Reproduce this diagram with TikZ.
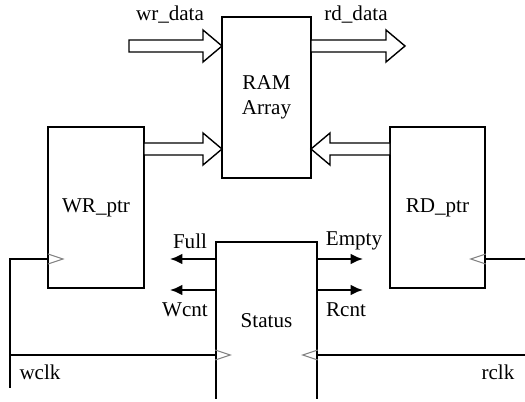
\documentclass[tikz,border=0pt]{standalone}
\usepackage{fontspec}
\setmainfont{Liberation Serif}
\usetikzlibrary{arrows,arrows.meta,positioning}
\tikzset{
  block/.style={draw, line width=0.85pt, rectangle, align=center, inner sep=0pt},
  bus/.style={draw, fill=white, line width=0.8pt, line join=miter},
  sig/.style={line width=1.1pt, -{Latex[length=7pt,width=6pt]}},
  wire/.style={line width=0.85pt},
  clk/.style={draw=gray, line width=0.6pt},
}
% #1 tip, #2 direction (1 right, -1 left), #3 shaft length
\newcommand{\busarrow}[3]{%
  \draw[bus] (#1) -- ++(-19*#2,-16) -- ++(0,10) -- ++(-#3*#2,0) -- ++(0,12)
    -- ++(#3*#2,0) -- ++(0,10) -- cycle;}

\begin{document}
\begin{tikzpicture}[x=0.02cm, y=-0.02cm, font=\fontsize{12}{14}\selectfont]
        \useasboundingbox (0,0) rectangle (525,402);
        \clip (0,0) rectangle (525,399);

        % Define blocks by coordinates
        \node[block, minimum width=1.78cm, minimum height=3.22cm] (ram) at (266.5,97.5) {RAM\\Array};
        \node[block, minimum width=1.92cm, minimum height=3.22cm] (wr) at (96,207.5) {WR\_ptr};
        \node[block, minimum width=1.9cm, minimum height=3.22cm] (rd) at (437.5,207.5) {RD\_ptr};
        \node[block, minimum width=2.02cm, minimum height=3.16cm] (status) at (266.5,321) {Status};

        % Data buses
        \coordinate (wrdata) at (222,46);
        \coordinate (rddata) at (405,46);
        \coordinate (wraddr) at (222,149);
        \coordinate (rdaddr) at (311,149);
        \busarrow{wrdata}{1}{74}
        \busarrow{rddata}{1}{75}
        \busarrow{wraddr}{1}{59}
        \busarrow{rdaddr}{-1}{60}
        \node (wrlbl) at (170,15) {wr\_data};
        \node (rdlbl) at (356,15) {rd\_data};

        % Status flags
        \coordinate (full) at (170,259);
        \coordinate (wcnt) at (170,290);
        \coordinate (empty) at (363,259);
        \coordinate (rcnt) at (363,290);
        \draw[sig] (status.west |- full) -- (full);
        \draw[sig] (status.west |- wcnt) -- (wcnt);
        \draw[sig] (status.east |- empty) -- (empty);
        \draw[sig] (status.east |- rcnt) -- (rcnt);
        \node (fulllbl) at (190,241) {Full};
        \node (wcntlbl) at (185,310) {Wcnt};
        \node (emptylbl) at (354,241) {Empty};
        \node (rcntlbl) at (346,310) {Rcnt};

        % Clocks
        \coordinate (wclk) at (10,388);
        \coordinate (wrclk) at (48,259);
        \coordinate (wbr) at (10,355);
        \coordinate (rclkA) at (525,259);
        \coordinate (rclkB) at (525,355);
        \draw[wire] (wclk) |- (wrclk);
        \draw[wire] (wbr) -- (wbr -| status.west);
        \draw[wire] (rclkA) -- (rclkA -| rd.east);
        \draw[wire] (rclkB) -- (rclkB -| status.east);
        \draw[clk] (wrclk) ++(0,-5) -- ++(15,5) -- ++(-15,5);
        \draw[clk] (wbr -| status.west) ++(0,-5) -- ++(15,5) -- ++(-15,5);
        \draw[clk] (rclkA -| rd.east) ++(0,-5) -- ++(-15,5) -- ++(15,5);
        \draw[clk] (rclkB -| status.east) ++(0,-5) -- ++(-15,5) -- ++(15,5);
        \node (wclklbl) at (40,372) {wclk};
        \node (rclklbl) at (498,372) {rclk};

\end{tikzpicture}
\end{document}
